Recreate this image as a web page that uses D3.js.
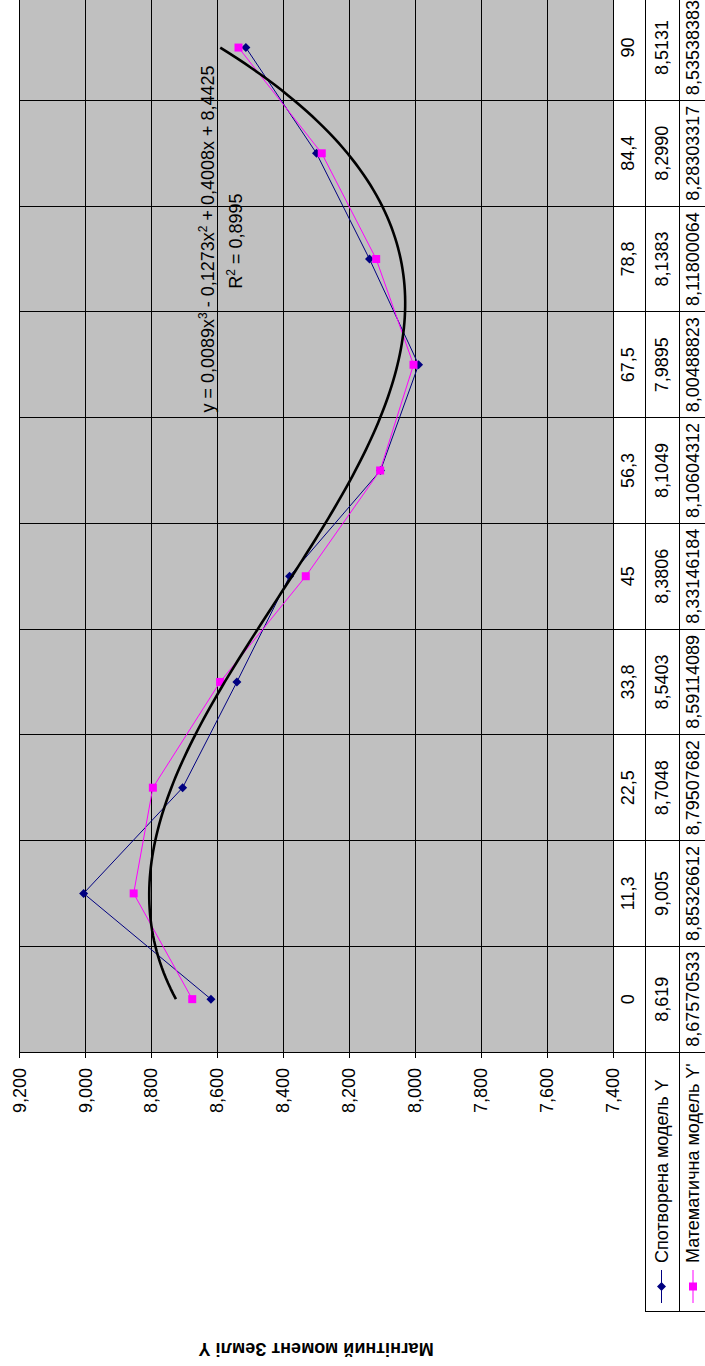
<!DOCTYPE html>
<html><head><meta charset="utf-8">
<script src="https://cdn.jsdelivr.net/npm/d3@7"></script>
<style>
body{margin:0;background:#fff}
svg{display:block}
text{font-family:"Liberation Sans",Arial,sans-serif;white-space:pre}
</style>
</head><body>
<svg id="chart" width="705" height="1366"></svg>
<script>
// ---------- data ----------
const categories = ["0","11,3","22,5","33,8","45","56,3","67,5","78,8","84,4","90"];
const seriesYText = ["8,619","9,005","8,7048","8,5403","8,3806","8,1049","7,9895","8,1383","8,2990","8,5131"];
const seriesY2Text = ["8,67570533","8,85326612","8,79507682","8,59114089","8,33146184","8,10604312","8,00488823","8,11800064","8,28303317","8,53538383"];
const seriesNames = ["Спотворена модель Y","Математична модель Y'"];
const valueTicks = [7.4,7.6,7.8,8.0,8.2,8.4,8.6,8.8,9.0,9.2];
const valueTickLabels = ["7,400","7,600","7,800","8,000","8,200","8,400","8,600","8,800","9,000","9,200"];
const axisTitle = "Магнітний момент Землі Y";
const trendEquation = ["y = 0,0089x","3"," - 0,1273x","2"," + 0,4008x + 8,4425"];
const trendR2 = ["R","2"," = 0,8995"];

const parseNum = s => +s.replace(",", ".");
const seriesY = seriesYText.map(parseNum);
const seriesY2 = seriesY2Text.map(parseNum);

// ---------- least squares cubic fit (Excel polynomial trendline of series Y) ----------
function polyfit(xs, ys, deg){
  const n = deg + 1;
  const A = Array.from({length:n},()=>new Array(n+1).fill(0));
  for (let r=0;r<n;r++){
    for (let c=0;c<n;c++) A[r][c] = d3.sum(xs, x=>Math.pow(x, r+c));
    A[r][n] = d3.sum(xs.map((x,i)=>Math.pow(x,r)*ys[i]));
  }
  for (let i=0;i<n;i++){
    let p=i; for(let k=i+1;k<n;k++) if(Math.abs(A[k][i])>Math.abs(A[p][i])) p=k;
    [A[i],A[p]]=[A[p],A[i]];
    for(let k=i+1;k<n;k++){ const f=A[k][i]/A[i][i]; for(let j=i;j<=n;j++) A[k][j]-=f*A[i][j]; }
  }
  const c = new Array(n).fill(0);
  for(let i=n-1;i>=0;i--){ let s=A[i][n]; for(let j=i+1;j<n;j++) s-=A[i][j]*c[j]; c[i]=s/A[i][i]; }
  return c;
}
const idx = categories.map((d,i)=>i+1);
const coefs = polyfit(idx, seriesY, 3);
const poly = t => coefs.reduce((s,c,k)=>s+c*Math.pow(t,k),0);

// ---------- layout (drawn in the chart's own frame, then turned) ----------
const svg = d3.select("#chart");
const g = svg.append("g").attr("transform","translate(0,1366) rotate(-90)");

const plotLeft = 314, plotRight = 1371.3, plotTop = 19.3, plotBottom = 613;
const rowEdges = [613, 645, 679, 712];
const legendLeft = 55;

const x = d3.scaleBand().domain(categories).range([plotLeft, plotRight]);
const y = d3.scaleLinear().domain([7.4, 9.2]).range([plotBottom, plotTop]);
const bw = x.bandwidth();
const cx = c => x(c) + bw/2;
const t = d3.scaleLinear().domain([1, categories.length]).range([cx(categories[0]), cx(categories[categories.length-1])]);

g.append("rect").attr("x",plotLeft).attr("y",plotTop)
  .attr("width",plotRight-plotLeft).attr("height",plotBottom-plotTop).attr("fill","#c0c0c0");

const lines = g.append("g").attr("stroke","#000").attr("stroke-width",1).attr("shape-rendering","crispEdges");
// value gridlines
lines.selectAll(".vg").data(valueTicks.filter(v=>v>7.4)).join("line")
  .attr("x1",plotLeft).attr("x2",plotRight).attr("y1",d=>y(d)).attr("y2",d=>y(d));
// category boundaries (grid + table)
categories.forEach((c,i)=>{
  const xe = x(c) + bw;
  lines.append("line").attr("x1",xe).attr("x2",xe).attr("y1",plotTop).attr("y2",rowEdges[3]);
});
// value axis line through table
lines.append("line").attr("x1",plotLeft).attr("x2",plotLeft).attr("y1",plotTop).attr("y2",rowEdges[3]);
// category axis / table rows
lines.append("line").attr("x1",plotLeft).attr("x2",plotRight).attr("y1",rowEdges[0]).attr("y2",rowEdges[0]);
[1,2,3].forEach(k=>lines.append("line").attr("x1",legendLeft).attr("x2",plotRight).attr("y1",rowEdges[k]).attr("y2",rowEdges[k]));
lines.append("line").attr("x1",legendLeft).attr("x2",legendLeft).attr("y1",rowEdges[1]).attr("y2",rowEdges[3]);

// value axis ticks & labels
const axis = d3.axisLeft(y).tickValues(valueTicks)
  .tickFormat((d,i)=>valueTickLabels[i]).tickSizeInner(6).tickSizeOuter(0).tickPadding(10);
const ax = g.append("g").attr("transform",`translate(${plotLeft},0)`).call(axis);
ax.select(".domain").remove();
ax.selectAll("line").attr("stroke","#000").attr("shape-rendering","crispEdges");
ax.selectAll("text").attr("font-size",18).attr("fill","#000").attr("font-family","Liberation Sans, Arial, sans-serif");

// axis title
g.append("text").attr("transform",`translate(23,${(plotTop+plotBottom)/2}) rotate(-90)`)
  .attr("text-anchor","middle").attr("font-size",18).attr("font-weight","bold").text(axisTitle);

// series
const lineGen = d3.line().x((d,i)=>cx(categories[i])).y(d=>y(d));
g.append("path").datum(seriesY).attr("d",lineGen).attr("fill","none").attr("stroke","#000080").attr("stroke-width",1);
g.selectAll(".mY").data(seriesY).join("path")
  .attr("d","M0,-4.5L4.5,0L0,4.5L-4.5,0Z").attr("fill","#000080")
  .attr("transform",(d,i)=>`translate(${cx(categories[i])},${y(d)})`);
g.append("path").datum(seriesY2).attr("d",lineGen).attr("fill","none").attr("stroke","#ff00ff").attr("stroke-width",1);
g.selectAll(".mY2").data(seriesY2).join("rect")
  .attr("width",8).attr("height",8).attr("fill","#ff00ff")
  .attr("x",(d,i)=>cx(categories[i])-4).attr("y",d=>y(d)-4);

// trendline
const tt = d3.range(1, categories.length + 0.001, 0.05);
g.append("path").datum(tt)
  .attr("d", d3.line().x(d=>t(d)).y(d=>y(poly(d))))
  .attr("fill","none").attr("stroke","#000").attr("stroke-width",2.6).attr("stroke-linejoin","round");

// trend label
const eq = g.append("text").attr("x",1127).attr("y",214).attr("text-anchor","middle").attr("font-size",18);
trendEquation.forEach((s,i)=>{
  const sup = i%2===1;
  eq.append("tspan").attr("dy", sup ? -7 : (i>0 ? 7 : 0)).attr("font-size", sup ? 12 : 18).text(s);
});
const r2 = g.append("text").attr("x",1125).attr("y",242).attr("text-anchor","middle").attr("font-size",18);
trendR2.forEach((s,i)=>{
  const sup = i%2===1;
  r2.append("tspan").attr("dy", sup ? -7 : (i>0 ? 7 : 0)).attr("font-size", sup ? 12 : 18).text(s);
});

// data table
const rowCenters = [628, 661.5, 693];
g.selectAll(".cat").data(categories).join("text")
  .attr("x",d=>cx(d)).attr("y",rowCenters[0]).attr("dy","0.35em").attr("text-anchor","middle").attr("font-size",18).text(d=>d);
g.selectAll(".vY").data(seriesYText).join("text")
  .attr("x",(d,i)=>cx(categories[i])).attr("y",rowCenters[1]).attr("dy","0.35em").attr("text-anchor","middle").attr("font-size",18).text(d=>d);
g.selectAll(".vY2").data(seriesY2Text).join("text")
  .attr("x",(d,i)=>cx(categories[i])).attr("y",rowCenters[2]).attr("dy","0.35em").attr("text-anchor","middle").attr("font-size",18).text(d=>d);

// legend keys in the table
const legendColors = ["#000080","#ff00ff"];
seriesNames.forEach((name,k)=>{
  const yy = rowCenters[k+1];
  g.append("line").attr("x1",63).attr("x2",96).attr("y1",yy).attr("y2",yy).attr("stroke",legendColors[k]).attr("stroke-width",1);
  if (k===0) g.append("path").attr("d","M0,-4.5L4.5,0L0,4.5L-4.5,0Z").attr("fill",legendColors[k]).attr("transform",`translate(79.5,${yy})`);
  else g.append("rect").attr("x",75.5).attr("y",yy-4).attr("width",8).attr("height",8).attr("fill",legendColors[k]);
  g.append("text").attr("x",103).attr("y",yy).attr("dy","0.35em").attr("font-size",18).text(name);
});
</script>
</body></html>
